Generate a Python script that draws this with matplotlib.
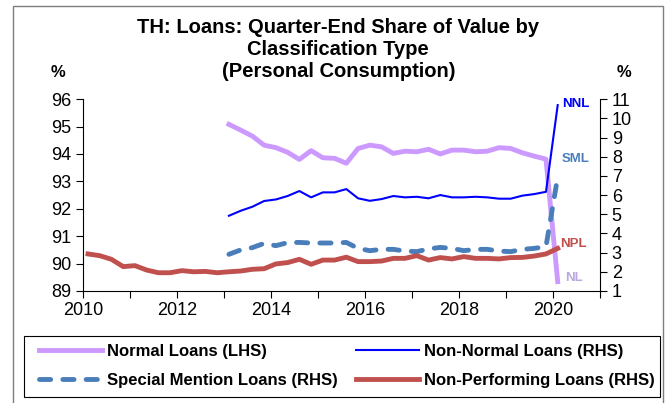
import numpy as np
import pandas as pd
import matplotlib
matplotlib.use('Agg')
import matplotlib.pyplot as plt
from matplotlib.patches import Rectangle

plt.rcParams['font.family'] = ['Liberation Sans', 'DejaVu Sans']

# quarterly observations, 2010Q1 .. 2020Q1
quarters = pd.period_range('2010Q1', '2020Q1', freq='Q')

# Non-performing loans (RHS), from 2010Q1
npl = [2.93, 2.84, 2.65, 2.27, 2.32, 2.09, 1.95, 1.95, 2.06, 2.00, 2.02, 1.95,
       2.00, 2.04, 2.13, 2.16, 2.41, 2.48, 2.65, 2.39, 2.61, 2.61, 2.76, 2.53,
       2.53, 2.56, 2.70, 2.70, 2.84, 2.61, 2.74, 2.67, 2.79, 2.70, 2.70, 2.67,
       2.74, 2.75, 2.82, 2.93, 3.22]

# the other series start in 2013Q1
normal = [95.08, 94.87, 94.65, 94.32, 94.23, 94.06, 93.80, 94.12, 93.86, 93.84,
          93.66, 94.20, 94.32, 94.26, 94.02, 94.10, 94.08, 94.17, 94.00, 94.14,
          94.14, 94.08, 94.10, 94.23, 94.20, 94.04, 93.92, 93.81, 89.34]
non_normal = [4.92, 5.18, 5.39, 5.69, 5.77, 5.95, 6.21, 5.88, 6.14, 6.14,
              6.31, 5.83, 5.70, 5.79, 5.95, 5.88, 5.91, 5.83, 6.00, 5.88,
              5.88, 5.91, 5.88, 5.81, 5.81, 5.97, 6.05, 6.17, 10.69]
special = [2.91, 3.14, 3.26, 3.48, 3.36, 3.52, 3.53, 3.50, 3.50, 3.50,
           3.53, 3.22, 3.10, 3.17, 3.17, 3.08, 3.05, 3.19, 3.27, 3.22,
           3.10, 3.17, 3.17, 3.08, 3.05, 3.17, 3.22, 3.31, 6.95]

x_all = np.array([q.year + (q.quarter - 1) * 0.25 + 0.1 for q in quarters])
x_late = x_all[-len(normal):]

C_NL = '#CC99FF'
C_NNL = '#0000FF'
C_SML = '#4A7EBB'
C_NPL = '#C0504D'

fig = plt.figure(figsize=(6.7, 4.03), dpi=100)
ax = fig.add_axes([0.1243, 0.278, 0.7712, 0.476])
ax2 = ax.twinx()

# outer frame of the chart, and the legend box
fig.patches.append(Rectangle((0.02, -0.01), 0.97, 0.995, transform=fig.transFigure,
                             fill=False, edgecolor='#7f7f7f', linewidth=1.0))
fig.patches.append(Rectangle((0.036, 0.015), 0.949, 0.151, transform=fig.transFigure,
                             fill=False, edgecolor='black', linewidth=0.8))

ln_nl, = ax.plot(x_late, normal, color=C_NL, lw=3.5, label='Normal Loans (LHS)')
ln_nnl, = ax2.plot(x_late, non_normal, color=C_NNL, lw=1.5, label='Non-Normal Loans (RHS)')
ln_sml, = ax2.plot(x_late, special, color=C_SML, lw=3.5, dashes=(2.3, 2.5),
                   dash_capstyle='round', label='Special Mention Loans (RHS)')
ln_npl, = ax2.plot(x_all, npl, color=C_NPL, lw=3.5, label='Non-Performing Loans (RHS)')

ax.set_xlim(2010, 2021)
ax.set_ylim(89, 96)
ax2.set_ylim(1, 11)
ax.set_xticks(range(2010, 2022, 2))
ax.set_xticks(range(2010, 2022), minor=True)
ax.set_yticks(range(89, 97))
ax2.set_yticks(range(1, 12))

for a in (ax, ax2):
    a.spines['top'].set_visible(False)
    for s in a.spines.values():
        s.set_color('black')
        s.set_linewidth(0.8)
    a.tick_params(axis='both', which='both', direction='out', length=5, width=0.8,
                  labelsize=13, colors='black')
ax.spines['right'].set_visible(False)
ax2.spines['left'].set_visible(False)
ax2.spines['bottom'].set_visible(False)
ax.tick_params(axis='x', which='minor', length=5)
ax.tick_params(axis='x', pad=3)

# end labels
ax2.text(x_late[-1] + 0.1, 10.75, 'NNL', color=C_NNL, fontsize=9.5, fontweight='bold',
         va='center', ha='left')
ax2.text(x_late[-1] + 0.08, 7.9, 'SML', color=C_SML, fontsize=9.5, fontweight='bold',
         va='center', ha='left')
ax2.text(x_late[-1] + 0.06, 3.45, 'NPL', color=C_NPL, fontsize=9.5, fontweight='bold',
         va='center', ha='left')
ax2.text(x_late[-1] + 0.15, 1.7, 'NL', color='#BBA8E0', fontsize=9.5, fontweight='bold',
         va='center', ha='left')

fig.text(0.505, 0.876, 'TH: Loans: Quarter-End Share of Value by\nClassification Type\n(Personal Consumption)',
         ha='center', va='center', multialignment='center', fontsize=14.5,
         fontweight='bold', linespacing=1.2)
fig.text(0.087, 0.82, '%', ha='center', va='center', fontsize=12, fontweight='bold')
fig.text(0.931, 0.82, '%', ha='center', va='center', fontsize=12, fontweight='bold')

# column-wise fill: NL, SML | NNL, NPL
leg = fig.legend(handles=[ln_nl, ln_sml, ln_nnl, ln_npl], ncol=2,
                 loc='center', bbox_to_anchor=(0.05, 0.092, 0.935, 0),
                 mode='expand', frameon=False, handlelength=3.8,
                 handletextpad=0.3, columnspacing=1.0, labelspacing=0.8,
                 borderpad=0.3, borderaxespad=0, prop={'weight': 'bold', 'size': 12})

fig.savefig('out.png', dpi=100)
